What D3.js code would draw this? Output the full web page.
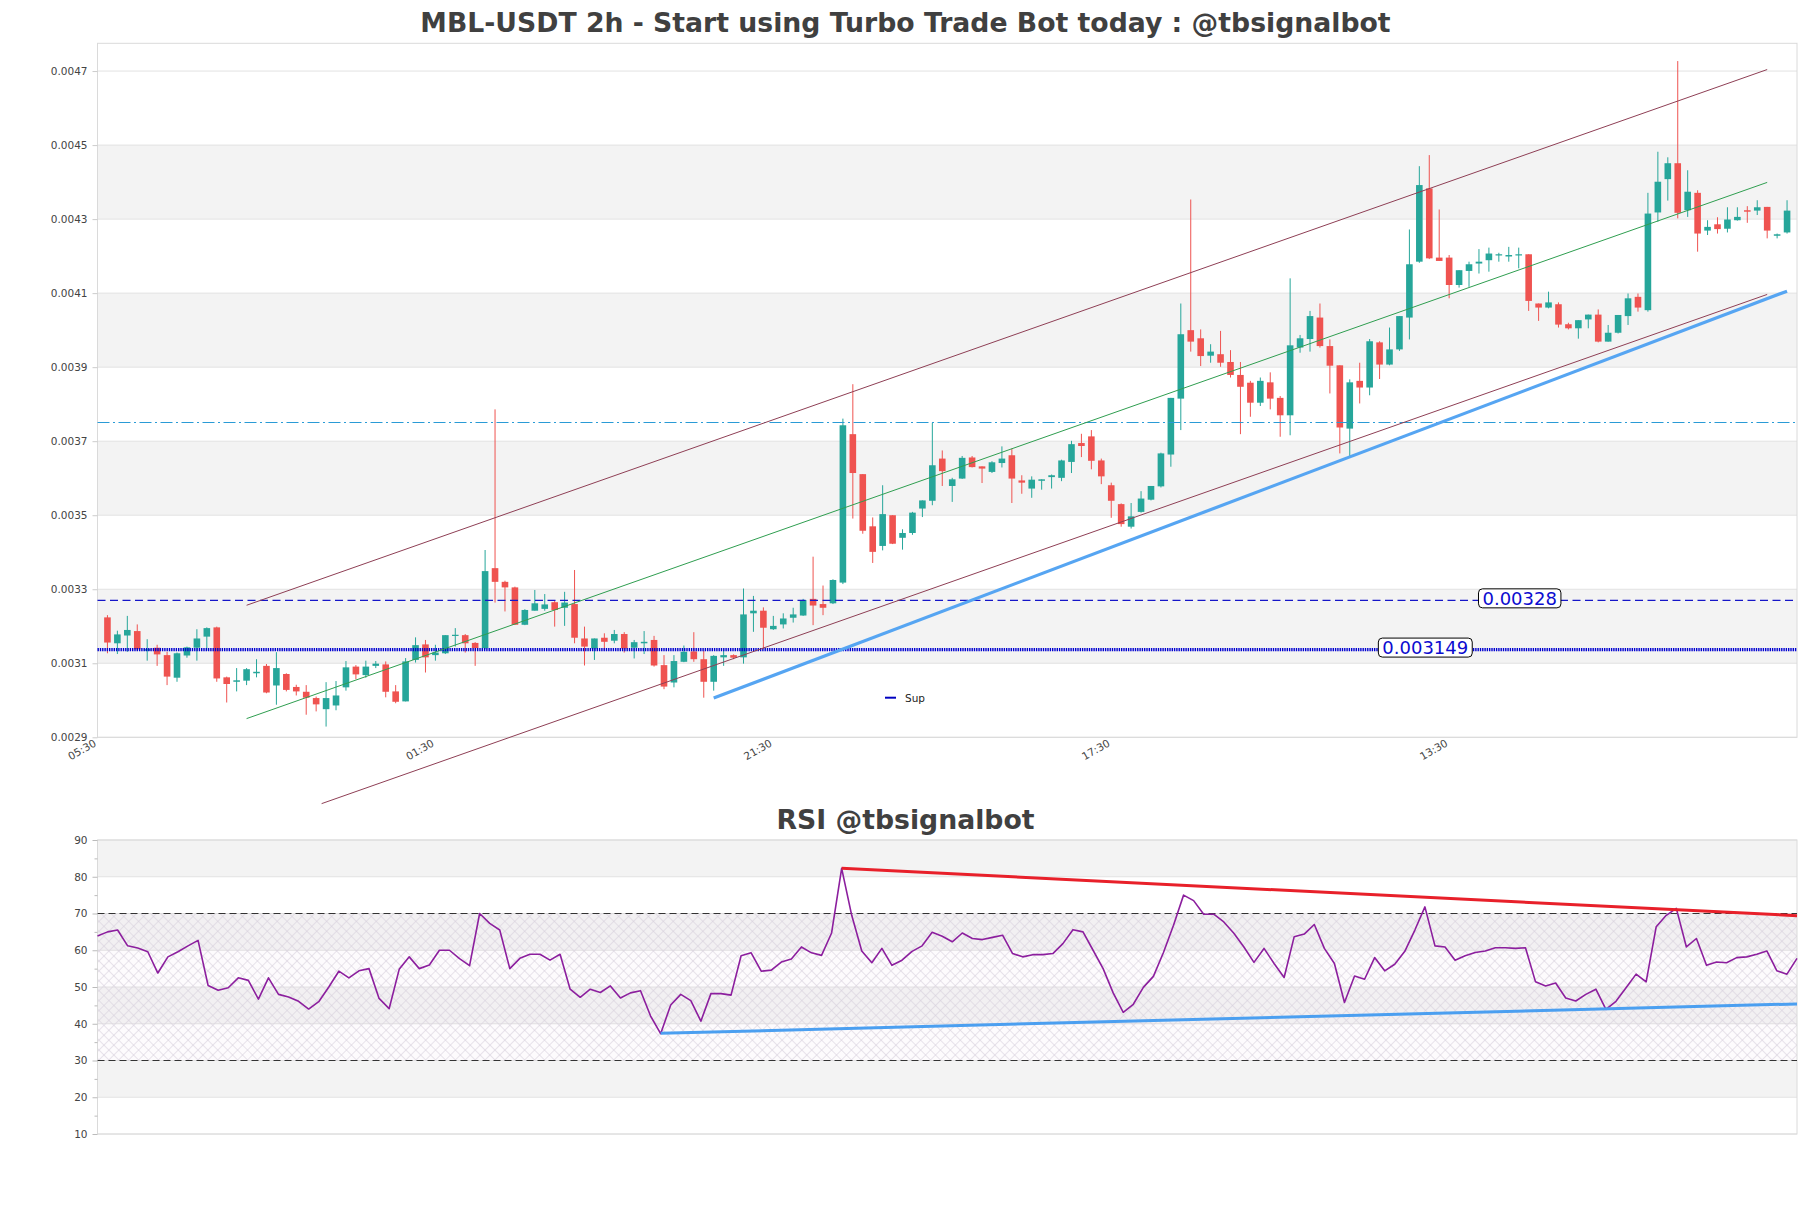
<!DOCTYPE html>
<html><head><meta charset="utf-8">
<script src="https://cdn.jsdelivr.net/npm/d3@7"></script>
<style>
body{margin:0;background:#fff;}
svg{display:block;font-family:"DejaVu Sans",sans-serif;}
</style></head><body>
<svg id="chart" width="1811" height="1208"></svg>
<script>
// ---------------- DATA ----------------
const titleMain = "MBL-USDT 2h - Start using Turbo Trade Bot today : @tbsignalbot";
const titleRsi = "RSI @tbsignalbot";

const opens = [
0.003224,0.003154,0.003175,0.003187,0.003134,0.003142,0.003122,0.003061,0.003121,0.003142,
0.003172,0.003197,0.003062,0.003050,0.003053,0.003073,0.003093,0.003040,0.003071,0.003036,
0.003023,0.003006,0.002976,0.002986,0.003035,0.003091,0.003068,0.003093,0.003097,0.003024,
0.002997,0.003109,0.003151,0.003122,0.003127,0.003174,0.003176,0.003155,0.003141,0.003357,
0.003320,0.003305,0.003204,0.003242,0.003247,0.003265,0.003250,0.003260,0.003167,0.003140,
0.003169,0.003161,0.003179,0.003142,0.003154,0.003163,0.003095,0.003048,0.003104,0.003132,
0.003111,0.003050,0.003116,0.003122,0.003116,0.003235,0.003242,0.003192,0.003205,0.003223,
0.003229,0.003274,0.003260,0.003262,0.003318,0.003719,0.003611,0.003470,0.003417,0.003500,
0.003439,0.003452,0.003518,0.003539,0.003653,0.003579,0.003599,0.003656,0.003632,0.003617,
0.003641,0.003662,0.003594,0.003572,0.003593,0.003603,0.003601,0.003644,0.003695,0.003713,
0.003648,0.003581,0.003530,0.003469,0.003509,0.003542,0.003578,0.003664,0.003815,0.004000,
0.003978,0.003931,0.003935,0.003914,0.003879,0.003858,0.003804,0.003859,0.003817,0.003770,
0.003953,0.003976,0.004034,0.003957,0.003905,0.003734,0.003863,0.003845,0.003967,0.003907,
0.003948,0.004034,0.004185,0.004383,0.004196,0.004196,0.004122,0.004160,0.004180,0.004189,
0.004202,0.004199,0.004202,0.004205,0.004072,0.004061,0.004070,0.004016,0.004005,0.004029,
0.004042,0.003969,0.003993,0.004038,0.004090,0.004054,0.004318,0.004408,0.004451,0.004324,
0.004371,0.004269,0.004286,0.004274,0.004297,0.004324,0.004323,0.004333,0.004255,0.004264];

const highs = [
0.003230,0.003188,0.003228,0.003205,0.003165,0.003150,0.003131,0.003129,0.003145,0.003192,
0.003197,0.003199,0.003064,0.003087,0.003087,0.003111,0.003098,0.003130,0.003073,0.003042,
0.003041,0.003010,0.003049,0.003052,0.003106,0.003095,0.003107,0.003106,0.003105,0.003041,
0.003114,0.003170,0.003163,0.003150,0.003176,0.003195,0.003179,0.003157,0.003406,0.003786,
0.003323,0.003307,0.003246,0.003298,0.003287,0.003269,0.003293,0.003352,0.003199,0.003167,
0.003181,0.003190,0.003184,0.003163,0.003187,0.003174,0.003122,0.003122,0.003148,0.003184,
0.003134,0.003122,0.003136,0.003124,0.003302,0.003282,0.003251,0.003228,0.003235,0.003250,
0.003274,0.003388,0.003310,0.003327,0.003761,0.003854,0.003611,0.003494,0.003581,0.003500,
0.003462,0.003509,0.003540,0.003750,0.003675,0.003601,0.003660,0.003660,0.003632,0.003646,
0.003686,0.003680,0.003608,0.003605,0.003597,0.003610,0.003650,0.003701,0.003720,0.003730,
0.003653,0.003588,0.003532,0.003533,0.003565,0.003579,0.003669,0.003817,0.004072,0.004353,
0.004002,0.003962,0.003998,0.003946,0.003914,0.003863,0.003872,0.003886,0.003822,0.004140,
0.003987,0.004052,0.004072,0.003975,0.003905,0.003867,0.003912,0.003976,0.003970,0.004007,
0.004038,0.004272,0.004443,0.004473,0.004326,0.004203,0.004162,0.004185,0.004219,0.004223,
0.004209,0.004225,0.004223,0.004205,0.004072,0.004104,0.004075,0.004020,0.004027,0.004042,
0.004056,0.004014,0.004041,0.004099,0.004099,0.004371,0.004482,0.004467,0.004727,0.004432,
0.004378,0.004297,0.004305,0.004332,0.004332,0.004335,0.004351,0.004333,0.004261,0.004351];

const lows = [
0.003127,0.003125,0.003131,0.003134,0.003107,0.003093,0.003041,0.003050,0.003115,0.003107,
0.003134,0.003050,0.002994,0.003024,0.003041,0.003062,0.003019,0.002988,0.003024,0.003013,
0.002961,0.002970,0.002929,0.002973,0.003026,0.003057,0.003061,0.003087,0.003008,0.002992,
0.002997,0.003102,0.003075,0.003107,0.003125,0.003145,0.003129,0.003093,0.003138,0.003264,
0.003240,0.003204,0.003203,0.003242,0.003242,0.003199,0.003201,0.003154,0.003094,0.003109,
0.003134,0.003154,0.003129,0.003113,0.003125,0.003091,0.003030,0.003035,0.003103,0.003104,
0.003007,0.003026,0.003093,0.003111,0.003099,0.003185,0.003140,0.003190,0.003194,0.003210,
0.003228,0.003203,0.003230,0.003260,0.003314,0.003491,0.003450,0.003371,0.003405,0.003422,
0.003407,0.003447,0.003495,0.003527,0.003579,0.003536,0.003598,0.003629,0.003587,0.003614,
0.003629,0.003533,0.003558,0.003547,0.003569,0.003572,0.003592,0.003614,0.003657,0.003624,
0.003584,0.003493,0.003469,0.003464,0.003507,0.003540,0.003575,0.003631,0.003730,0.003942,
0.003903,0.003912,0.003901,0.003872,0.003719,0.003766,0.003795,0.003786,0.003712,0.003716,
0.003939,0.003942,0.003953,0.003829,0.003667,0.003660,0.003802,0.003824,0.003868,0.003905,
0.003944,0.003975,0.004182,0.004192,0.004187,0.004086,0.004115,0.004117,0.004153,0.004158,
0.004185,0.004185,0.004167,0.004052,0.004025,0.004059,0.004007,0.004002,0.003977,0.004005,
0.003967,0.003969,0.003991,0.004014,0.004050,0.004050,0.004293,0.004350,0.004302,0.004306,
0.004212,0.004257,0.004261,0.004264,0.004296,0.004290,0.004311,0.004248,0.004248,0.004261];

const closes = [
0.003156,0.003178,0.003190,0.003138,0.003138,0.003124,0.003064,0.003127,0.003143,0.003167,
0.003195,0.003059,0.003044,0.003054,0.003084,0.003077,0.003021,0.003087,0.003028,0.003024,
0.003007,0.002989,0.003006,0.003013,0.003089,0.003070,0.003091,0.003099,0.003023,0.002996,
0.003105,0.003149,0.003116,0.003129,0.003176,0.003177,0.003154,0.003141,0.003349,0.003320,
0.003305,0.003204,0.003244,0.003262,0.003259,0.003244,0.003264,0.003169,0.003145,0.003167,
0.003158,0.003179,0.003140,0.003157,0.003158,0.003094,0.003037,0.003106,0.003131,0.003111,
0.003050,0.003120,0.003122,0.003115,0.003232,0.003242,0.003196,0.003201,0.003221,0.003232,
0.003271,0.003256,0.003250,0.003325,0.003743,0.003614,0.003458,0.003401,0.003503,0.003423,
0.003452,0.003507,0.003540,0.003635,0.003619,0.003597,0.003655,0.003630,0.003626,0.003643,
0.003653,0.003599,0.003588,0.003596,0.003597,0.003608,0.003648,0.003692,0.003687,0.003647,
0.003605,0.003539,0.003476,0.003497,0.003545,0.003579,0.003667,0.003817,0.003989,0.003969,
0.003930,0.003942,0.003912,0.003879,0.003847,0.003804,0.003863,0.003815,0.003770,0.003959,
0.003978,0.004038,0.003957,0.003904,0.003737,0.003859,0.003845,0.003970,0.003907,0.003948,
0.004038,0.004178,0.004392,0.004194,0.004187,0.004122,0.004162,0.004178,0.004185,0.004207,
0.004205,0.004203,0.004205,0.004079,0.004061,0.004075,0.004015,0.004005,0.004027,0.004042,
0.003969,0.003993,0.004041,0.004086,0.004061,0.004315,0.004401,0.004451,0.004317,0.004374,
0.004261,0.004279,0.004273,0.004299,0.004306,0.004320,0.004332,0.004269,0.004259,0.004323];

const rsiValues = [
63.9,65.0,65.5,61.2,60.6,59.6,53.8,58.2,59.6,61.2,
62.7,50.4,49.1,49.8,52.5,51.8,46.7,52.5,48.0,47.3,
46.1,44.0,46.0,50.0,54.3,52.5,54.4,55.0,46.9,44.1,
54.8,58.2,55.0,56.0,60.0,60.0,57.7,55.8,70.0,67.3,
65.5,55.0,57.8,58.9,58.9,57.3,58.9,49.4,47.2,49.4,
48.5,50.3,47.0,48.4,49.0,42.1,37.3,45.1,48.0,46.3,
40.7,48.2,48.2,47.8,58.5,59.3,54.3,54.6,56.8,57.6,
60.9,59.3,58.6,64.7,82.3,69.5,59.8,56.6,60.5,55.9,
57.3,59.7,61.2,64.9,63.8,62.3,64.7,63.2,62.9,63.5,
64.1,59.1,58.2,58.8,58.8,59.1,61.8,65.6,65.0,60.0,
55.0,48.4,43.1,45.3,49.9,52.9,59.4,66.8,75.0,73.5,
69.8,69.8,67.7,64.6,60.9,56.7,60.5,56.4,52.6,63.7,
64.4,67.0,60.5,56.4,45.8,53.0,52.1,58.0,54.4,56.2,
59.7,65.5,71.8,61.2,60.9,57.3,58.5,59.4,59.8,60.7,
60.7,60.5,60.7,51.4,50.3,51.1,47.0,46.2,48.0,49.4,
43.9,46.1,49.8,53.5,51.4,66.4,69.5,71.4,60.9,63.2,
55.9,56.8,56.6,58.0,58.2,58.9,59.8,54.4,53.5,57.8];

const xTickIndex = [-1, 33, 67, 101, 135];
const xTickLabels = ["05:30", "01:30", "21:30", "17:30", "13:30"];
const priceTicks = [0.0029,0.0031,0.0033,0.0035,0.0037,0.0039,0.0041,0.0043,0.0045,0.0047];
const priceBands = [[0.0031,0.0033],[0.0035,0.0037],[0.0039,0.0041],[0.0043,0.0045]];
const rsiTicks = [10,20,30,40,50,60,70,80,90];
const rsiMinorTicks = [15,25,35,45,55,65,75,85];
const rsiBands = [[20,30],[40,50],[60,70],[80,90]];
const rsiLevels = [30, 70];

// channel lines: [startIndex, startPrice, endIndex, endPrice]
const channelUpper = [14, 0.0032567, 167, 0.0047041];
const channelMid   = [14, 0.0029505, 167, 0.0043992];
const channelLower = [21.55, 0.0027208, 167, 0.0040965];
const supportLine  = [61, 0.0030062, 169, 0.0041054];
const resistLevel  = 0.0037505;
const levelA = {value: 0.00327, label: "0.00328"};
const levelB = {value: 0.003137, label: "0.003149"};
const rsiRedLine  = [74, 82.3, 169, 69.4];
const rsiBlueLine = [56, 37.4, 169, 45.4];
const legendLabel = "Sup";

// ---------------- LAYOUT ----------------
const UP = "#26a69a", DOWN = "#ef5350";
const M = {left: 97.5, right: 1797, top: 43.3, bottom: 737.3};
const R = {top: 840, bottom: 1134};
const svg = d3.select("#chart");
const FONT = "DejaVu Sans";

const x = d3.scaleLinear().domain([-1, 170]).range([M.left, M.right]);
const y = d3.scaleLinear().domain([0.0029, 0.004775]).range([M.bottom, M.top]);
const xr = d3.scaleLinear().domain([0, rsiValues.length - 1]).range([M.left, M.right]);
const yr = d3.scaleLinear().domain([10, 90]).range([R.bottom, R.top]);

const defs = svg.append("defs");
const pat = defs.append("pattern").attr("id", "hatch").attr("patternUnits", "userSpaceOnUse")
  .attr("width", 7).attr("height", 7).attr("patternTransform", "rotate(45)");
pat.append("rect").attr("width", 7).attr("height", 7).attr("fill", "rgba(205,170,220,0.045)");
pat.append("path").attr("d", "M0,0.5H7M0.5,0V7").attr("stroke", "#d6d0dc").attr("stroke-width", 0.6);

// ---- Titles
svg.append("text").attr("x", 905.5).attr("y", 32).attr("text-anchor", "middle")
  .attr("font-family", FONT).attr("font-weight", "bold").attr("font-size", 26.7).attr("fill", "#404040")
  .text(titleMain);
svg.append("text").attr("x", 905.5).attr("y", 829).attr("text-anchor", "middle")
  .attr("font-family", FONT).attr("font-weight", "bold").attr("font-size", 26.7).attr("fill", "#404040")
  .text(titleRsi);

// ---- Main panel
const gMain = svg.append("g");
gMain.selectAll("rect.band").data(priceBands).join("rect").attr("class", "band")
  .attr("x", M.left).attr("width", M.right - M.left)
  .attr("y", d => y(d[1])).attr("height", d => y(d[0]) - y(d[1])).attr("fill", "#f3f3f3");
gMain.selectAll("line.grid").data(priceTicks).join("line").attr("class", "grid")
  .attr("x1", M.left).attr("x2", M.right).attr("y1", d => y(d)).attr("y2", d => y(d))
  .attr("stroke", "#e2e2e2").attr("stroke-width", 1);
gMain.append("rect").attr("x", M.left).attr("y", M.top).attr("width", M.right - M.left)
  .attr("height", M.bottom - M.top).attr("fill", "none").attr("stroke", "#dadada");

const yAxis = d3.axisLeft(y).tickValues(priceTicks).tickFormat(d3.format(".4f")).tickSize(5).tickPadding(5);
gMain.append("g").attr("transform", `translate(${M.left},0)`).call(yAxis).call(g => {
  g.select(".domain").remove();
  g.selectAll(".tick line").attr("stroke", "#cccccc");
  g.selectAll(".tick text").attr("fill", "#444").attr("font-size", 10.5).attr("font-family", FONT);
});

const xAxis = d3.axisBottom(x).tickValues(xTickIndex).tickFormat((d, i) => xTickLabels[i]).tickSize(0);
gMain.append("g").attr("transform", `translate(0,${M.bottom})`).call(xAxis).call(g => {
  g.select(".domain").remove();
  g.selectAll(".tick text").attr("fill", "#444").attr("font-size", 10.5).attr("font-family", FONT)
    .attr("text-anchor", "end").attr("y", 0).attr("dy", 0)
    .attr("transform", "translate(-1,8) rotate(-30)");
});

// candles
const candles = d3.range(opens.length).map(i => ({i, o: opens[i], h: highs[i], l: lows[i], c: closes[i]}));
const gC = gMain.append("g");
gC.selectAll("line.wick").data(candles).join("line").attr("class", "wick")
  .attr("x1", d => x(d.i)).attr("x2", d => x(d.i))
  .attr("y1", d => y(d.h)).attr("y2", d => y(d.l))
  .attr("stroke", d => d.c >= d.o ? UP : DOWN).attr("stroke-width", 1);
const bw = 6.6;
gC.selectAll("rect.body").data(candles).join("rect").attr("class", "body")
  .attr("x", d => x(d.i) - bw / 2).attr("width", bw)
  .attr("y", d => y(Math.max(d.o, d.c)))
  .attr("height", d => Math.max(1.2, Math.abs(y(d.o) - y(d.c))))
  .attr("fill", d => d.c >= d.o ? UP : DOWN);

// horizontal levels
const hl = (v, color, dash, w) => gMain.append("line")
  .attr("x1", M.left).attr("x2", M.right).attr("y1", y(v)).attr("y2", y(v))
  .attr("stroke", color).attr("stroke-dasharray", dash).attr("stroke-width", w);
hl(resistLevel, "#2a9bd6", "12,3.5,2,3.5", 1.2);
hl(levelA.value, "#1515c8", "8,4.5", 1.4);
hl(levelB.value, "#0000d0", "1.4,0.9", 3.4);

// segments
const seg = (parent, s, color, w, sx, sy) => parent.append("line")
  .attr("x1", sx(s[0])).attr("y1", sy(s[1])).attr("x2", sx(s[2])).attr("y2", sy(s[3]))
  .attr("stroke", color).attr("stroke-width", w);
seg(gMain, channelUpper, "#8e3f55", 1, x, y);
seg(gMain, channelLower, "#8e3f55", 1, x, y);
seg(gMain, channelMid, "#2f9e50", 1, x, y);
seg(gMain, supportLine, "#56a5f2", 3.2, x, y);

// level labels
function boxLabel(cx, cy, txt) {
  const g = gMain.append("g");
  const t = g.append("text").attr("x", cx).attr("y", cy).attr("text-anchor", "middle")
    .attr("dominant-baseline", "central").attr("font-family", FONT).attr("font-size", 18)
    .attr("fill", "#0c0cd0").text(txt);
  const wdt = t.node().getComputedTextLength();
  g.insert("rect", "text").attr("x", cx - wdt / 2 - 4).attr("y", cy - 9.5)
    .attr("width", wdt + 8).attr("height", 19).attr("rx", 4)
    .attr("fill", "#fff").attr("stroke", "#000").attr("stroke-width", 1);
}
boxLabel(x(142.1), y(levelA.value) - 2, levelA.label);
boxLabel(x(132.6), y(levelB.value) - 2, levelB.label);

// legend
gMain.append("line").attr("x1", 885).attr("x2", 896).attr("y1", 697.7).attr("y2", 697.7)
  .attr("stroke", "#0000c0").attr("stroke-width", 2);
gMain.append("text").attr("x", 905).attr("y", 701.5).attr("font-family", FONT).attr("font-size", 10.5)
  .attr("fill", "#222").text(legendLabel);

// ---- RSI panel
const gR = svg.append("g");
gR.selectAll("rect.band").data(rsiBands).join("rect").attr("class", "band")
  .attr("x", M.left).attr("width", M.right - M.left)
  .attr("y", d => yr(d[1])).attr("height", d => yr(d[0]) - yr(d[1])).attr("fill", "#f3f3f3");
gR.selectAll("line.grid").data(rsiTicks).join("line").attr("class", "grid")
  .attr("x1", M.left).attr("x2", M.right).attr("y1", d => yr(d)).attr("y2", d => yr(d))
  .attr("stroke", "#e2e2e2");
gR.append("rect").attr("x", M.left).attr("width", M.right - M.left)
  .attr("y", yr(70)).attr("height", yr(30) - yr(70)).attr("fill", "url(#hatch)");
gR.append("rect").attr("x", M.left).attr("y", R.top).attr("width", M.right - M.left)
  .attr("height", R.bottom - R.top).attr("fill", "none").attr("stroke", "#dadada");
gR.selectAll("line.lvl").data(rsiLevels).join("line").attr("class", "lvl")
  .attr("x1", M.left).attr("x2", M.right).attr("y1", d => yr(d)).attr("y2", d => yr(d))
  .attr("stroke", "#333").attr("stroke-width", 1).attr("stroke-dasharray", "7,4");

const rAxis = d3.axisLeft(yr).tickValues(rsiTicks).tickSize(5).tickPadding(5);
gR.append("g").attr("transform", `translate(${M.left},0)`).call(rAxis).call(g => {
  g.select(".domain").remove();
  g.selectAll(".tick line").attr("stroke", "#bbbbbb");
  g.selectAll(".tick text").attr("fill", "#444").attr("font-size", 10.5).attr("font-family", FONT);
});
const rMinor = d3.axisLeft(yr).tickValues(rsiMinorTicks).tickSize(3).tickFormat("");
gR.append("g").attr("transform", `translate(${M.left},0)`).call(rMinor).call(g => {
  g.select(".domain").remove();
  g.selectAll(".tick line").attr("stroke", "#bbbbbb");
});

gR.append("path").datum(rsiValues)
  .attr("d", d3.line().x((d, i) => xr(i)).y(d => yr(d)))
  .attr("fill", "none").attr("stroke", "#8c1f9e").attr("stroke-width", 1.6).attr("stroke-linejoin", "round");
seg(gR, rsiRedLine, "#e8202a", 3, xr, yr);
seg(gR, rsiBlueLine, "#4b9ff0", 3, xr, yr);
</script>
</body></html>
